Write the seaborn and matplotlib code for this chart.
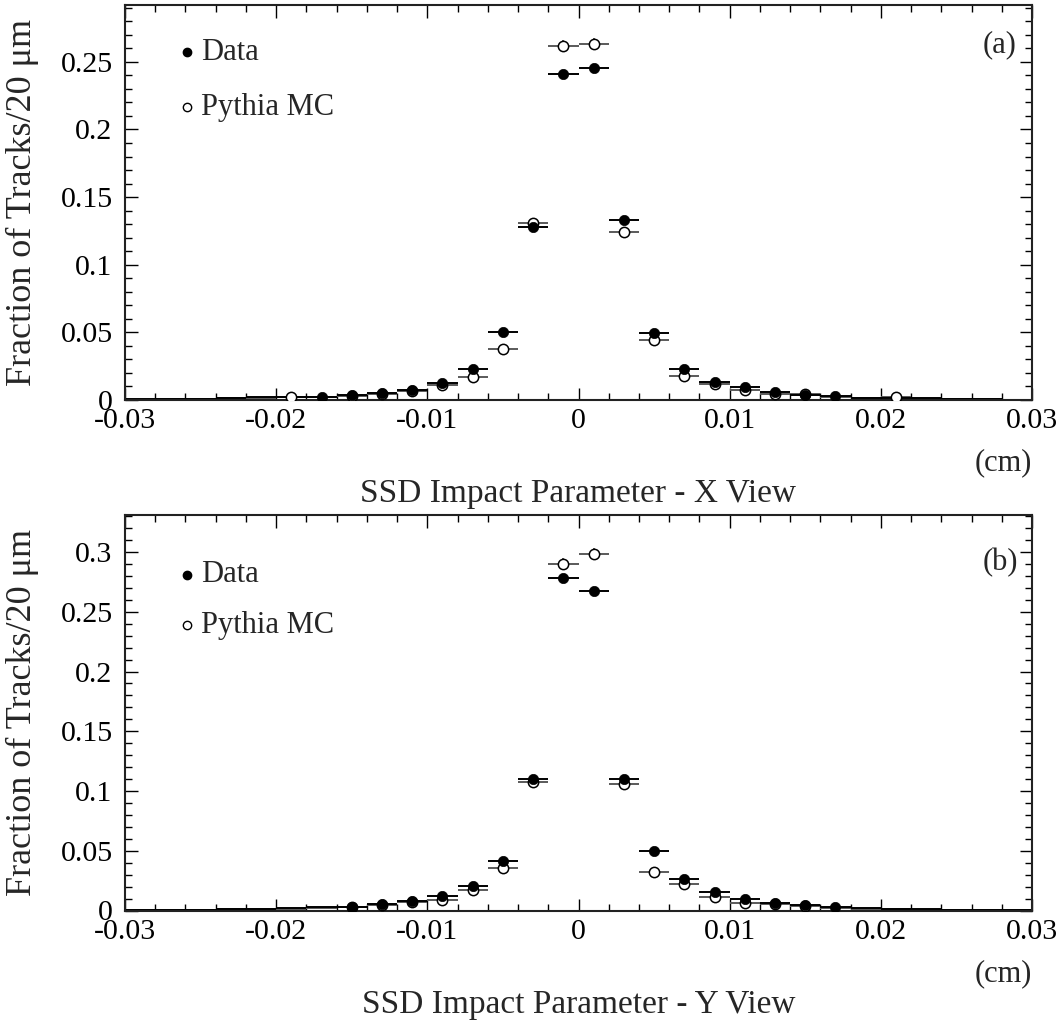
import numpy as np
import pandas as pd
import matplotlib
matplotlib.use("Agg")
import matplotlib.pyplot as plt
import seaborn as sns
from matplotlib.ticker import MultipleLocator, FixedLocator

# ---------------- data ----------------
bin_centers = [-0.029, -0.027, -0.025, -0.023, -0.021, -0.019, -0.017, -0.015, -0.013, -0.011,
               -0.009, -0.007, -0.005, -0.003, -0.001, 0.001, 0.003, 0.005, 0.007, 0.009,
               0.011, 0.013, 0.015, 0.017, 0.019, 0.021, 0.023, 0.025, 0.027, 0.029]
bin_half_width = 0.001

# Panel (a): X view
data_x = [0.0005, 0.0005, 0.0010, 0.0015, 0.0020, 0.0020, 0.0025, 0.0039, 0.0054, 0.0074,
          0.0124, 0.0227, 0.0501, 0.1280, 0.2410, 0.2457, 0.1332, 0.0494, 0.0227, 0.0135,
          0.0094, 0.0057, 0.0039, 0.0027, 0.0015, 0.0017, 0.0012, 0.0005, 0.0004, 0.0003]
mc_x = [0.0003, 0.0004, 0.0008, 0.0013, 0.0015, 0.0020, 0.0022, 0.0033, 0.0047, 0.0067,
        0.0111, 0.0172, 0.0378, 0.1312, 0.2615, 0.2633, 0.1241, 0.0444, 0.0180, 0.0118,
        0.0074, 0.0044, 0.0044, 0.0022, 0.0015, 0.0024, 0.0010, 0.0005, 0.0004, 0.0003]
mc_x_err = [0, 0, 0, 0, 0, 0, 0, 0, 0, 0,
            0, 0, 0.001, 0.002, 0.0045, 0.0045, 0.002, 0.001, 0, 0,
            0, 0, 0, 0, 0, 0, 0, 0, 0, 0]
data_x_marked = [False, False, False, False, False, False, True, True, True, True,
                 True, True, True, True, True, True, True, True, True, True,
                 True, True, True, True, False, False, False, False, False, False]
mc_x_marked = [False, False, False, False, False, True, False, True, True, True,
               True, True, True, True, True, True, True, True, True, True,
               True, True, True, False, False, True, False, False, False, False]

# Panel (b): Y view
data_y = [0.0004, 0.0005, 0.0007, 0.0010, 0.0013, 0.0018, 0.0027, 0.0030, 0.0054, 0.0080,
          0.0124, 0.0205, 0.0415, 0.1100, 0.2785, 0.2676, 0.1100, 0.0496, 0.0262, 0.0153,
          0.0096, 0.0060, 0.0044, 0.0027, 0.0018, 0.0015, 0.0010, 0.0007, 0.0005, 0.0004]
mc_y = [0.0003, 0.0004, 0.0006, 0.0009, 0.0012, 0.0016, 0.0024, 0.0028, 0.0050, 0.0075,
        0.0088, 0.0172, 0.0354, 0.1075, 0.2904, 0.2982, 0.1060, 0.0320, 0.0220, 0.0110,
        0.0065, 0.0052, 0.0040, 0.0025, 0.0015, 0.0012, 0.0008, 0.0006, 0.0004, 0.0003]
mc_y_err = [0, 0, 0, 0, 0, 0, 0, 0, 0, 0,
            0, 0, 0.001, 0.002, 0.0045, 0.0048, 0.002, 0.001, 0, 0,
            0, 0, 0, 0, 0, 0, 0, 0, 0, 0]
data_y_marked = [False, False, False, False, False, False, False, True, True, True,
                 True, True, True, True, True, True, True, True, True, True,
                 True, True, True, True, False, False, False, False, False, False]
mc_y_marked = [False, False, False, False, False, False, False, True, True, True,
               True, True, True, True, True, True, True, True, True, True,
               True, True, True, False, False, False, False, False, False, False]

x_ticks = [-0.03, -0.02, -0.01, 0.0, 0.01, 0.02, 0.03]
x_tick_labels = ["-0.03", "-0.02", "-0.01", "0", "0.01", "0.02", "0.03"]
y_ticks_a = [0, 0.05, 0.1, 0.15, 0.2, 0.25]
y_tick_labels_a = ["0", "0.05", "0.1", "0.15", "0.2", "0.25"]
y_ticks_b = [0, 0.05, 0.1, 0.15, 0.2, 0.25, 0.3]
y_tick_labels_b = ["0", "0.05", "0.1", "0.15", "0.2", "0.25", "0.3"]

ylabel = "Fraction of Tracks/20 \u03bcm"
xlabel_a = "SSD Impact Parameter - X View"
xlabel_b = "SSD Impact Parameter - Y View"
legend_labels = ["Data", "Pythia MC"]

# ---------------- style ----------------
sns.set_theme(style="ticks")
plt.rcParams['font.family'] = ['Liberation Serif', 'DejaVu Serif']
plt.rcParams['axes.unicode_minus'] = False

FS_TICK = 21.5
FS_LEG = 22
FS_XLAB = 24
FS_YLAB = 26
fig = plt.figure(figsize=(10.64, 10.23), dpi=100)
W, H = 1064, 1023


def add_panel(top_px, bottom_px, data, mc, mc_err, dmark, mmark, yticks, yticklabels,
              ymax, xlabel, tag, tag_y_px, leg_y_px):
    left_px, right_px = 125, 1032
    ax = fig.add_axes([left_px / W, 1 - bottom_px / H, (right_px - left_px) / W,
                       (bottom_px - top_px) / H])
    x = np.array(bin_centers)
    # horizontal bin-width bars
    ax.errorbar(x, mc, xerr=bin_half_width, yerr=mc_err, fmt='none', ecolor='#5a5a5a',
                elinewidth=1.4, capsize=0, zorder=2)
    ax.errorbar(x, data, xerr=bin_half_width, fmt='none', ecolor='black',
                elinewidth=1.4, capsize=0, zorder=2)
    df_mc = pd.DataFrame({"x": x, "y": mc, "m": mmark})
    df_d = pd.DataFrame({"x": x, "y": data, "m": dmark})
    sns.scatterplot(data=df_mc[df_mc.m], x="x", y="y", ax=ax, s=55, marker='o',
                    facecolor='white', edgecolor='black', linewidth=1.1, zorder=3)
    sns.scatterplot(data=df_d[df_d.m], x="x", y="y", ax=ax, s=55, marker='o',
                    color='black', edgecolor='black', linewidth=0.5, zorder=4)
    ax.set_xlim(-0.03, 0.03)
    ax.set_ylim(0, ymax)
    ax.xaxis.set_major_locator(FixedLocator(x_ticks))
    ax.set_xticklabels(x_tick_labels)
    ax.xaxis.set_minor_locator(MultipleLocator(0.002))
    ax.yaxis.set_major_locator(FixedLocator(yticks))
    ax.set_yticklabels(yticklabels)
    ax.yaxis.set_minor_locator(MultipleLocator(0.01))
    ax.tick_params(which='both', direction='in', top=True, right=True, labelsize=FS_TICK,
                   width=1.0, colors='black')
    ax.tick_params(which='major', length=9)
    ax.tick_params(which='minor', length=5)
    ax.tick_params(axis='x', pad=6)
    ax.tick_params(axis='y', pad=9)
    for sp in ax.spines.values():
        sp.set_linewidth(1.5)
        sp.set_color('#222222')
    ax.set_xlabel("")
    ax.set_ylabel(ylabel, fontsize=FS_YLAB, va='center')
    ax.yaxis.set_label_coords((22 - left_px) / (right_px - left_px), 0.5)
    hpx = bottom_px - top_px
    ax.text(1.0, -63 / hpx, "(cm)", transform=ax.transAxes, ha='right', va='center',
            fontsize=FS_LEG)
    ax.text(0.5, -94 / hpx, xlabel, transform=ax.transAxes, ha='center', va='center',
            fontsize=FS_XLAB)
    ax.text((1000 - left_px) / (right_px - left_px), 1 - tag_y_px / hpx, tag,
            transform=ax.transAxes, ha='center', va='center', fontsize=FS_LEG)
    # legend
    lx = (187 - left_px) / (right_px - left_px)
    tx = (201 - left_px) / (right_px - left_px)
    for i, (lab, fc) in enumerate(zip(legend_labels, ['black', 'white'])):
        yy = 1 - (leg_y_px[i]) / hpx
        ax.plot([lx], [yy], 'o', transform=ax.transAxes, ms=6, mfc=fc, mec='black',
                mew=1.0, clip_on=False)
        ax.text(tx, yy, lab, transform=ax.transAxes, ha='left', va='center',
                fontsize=FS_LEG)
    return ax


add_panel(5, 400, data_x, mc_x, mc_x_err, data_x_marked, mc_x_marked, y_ticks_a,
          y_tick_labels_a, 0.292, xlabel_a, "(a)", 40, [47, 102])
add_panel(515, 910.5, data_y, mc_y, mc_y_err, data_y_marked, mc_y_marked, y_ticks_b,
          y_tick_labels_b, 0.331, xlabel_b, "(b)", 48, [60, 110])

fig.savefig("out.png", dpi=100)
